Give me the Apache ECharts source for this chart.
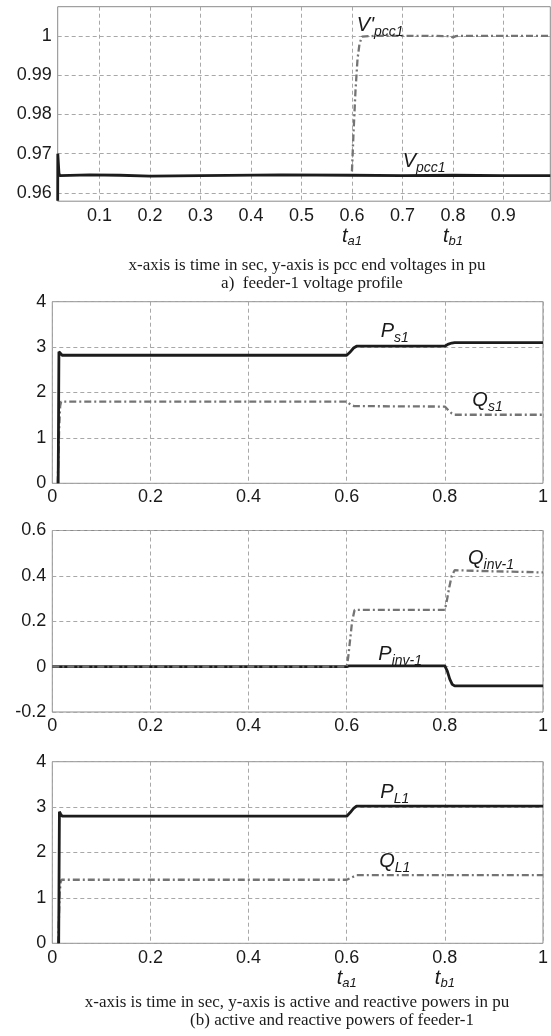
<!DOCTYPE html>
<html>
<head>
<meta charset="utf-8">
<script src="https://cdn.jsdelivr.net/npm/echarts@6/dist/echarts.min.js"></script>
<style>
html,body{margin:0;padding:0;background:#fff;}
#c{width:551px;height:1036px;}
</style>
</head>
<body>
<div id="c"></div>
<script>
// ---------- data ----------
// Panel (a): PCC voltages (pu) vs time (s)
const xTicksA = [0.1, 0.2, 0.3, 0.4, 0.5, 0.6, 0.7, 0.8, 0.9];
const yTicksA = [0.96, 0.97, 0.98, 0.99, 1];
const vpccT  = [0.017, 0.0172, 0.0185, 0.0195, 0.021, 0.08, 0.14, 0.2, 0.3, 0.46, 0.6, 0.7, 0.8, 0.9, 0.993];
const vpccV  = [0.958, 0.970, 0.9695, 0.9650, 0.9644, 0.9646, 0.9645, 0.9643, 0.9644, 0.9646, 0.9645, 0.9644, 0.9645, 0.9644, 0.9644];
const vpcc2T = [0.6, 0.603, 0.607, 0.611, 0.615, 0.62, 0.65, 0.75, 0.795, 0.8, 0.806, 0.812, 0.9, 0.993];
const vpcc2V = [0.9655, 0.975, 0.986, 0.994, 0.998, 0.9998, 1.0, 1.0, 0.9999, 0.9996, 0.9999, 1.0, 1.0, 1.0];

// Panel (b1): source powers
const psT = [0.012, 0.0135, 0.016, 0.02, 0.6, 0.606, 0.614, 0.62, 0.8, 0.806, 0.814, 0.82, 1];
const psV = [0, 2.9, 2.86, 2.82, 2.82, 2.88, 2.98, 3.02, 3.02, 3.06, 3.09, 3.1, 3.1];
const qsT = [0.011, 0.014, 0.016, 0.018, 0.6, 0.608, 0.615, 0.8, 0.808, 0.814, 0.82, 1];
const qsV = [0, 1.2, 1.7, 1.8, 1.8, 1.73, 1.7, 1.69, 1.6, 1.54, 1.51, 1.51];

// Panel (b2): inverter powers
const pinvT = [0, 0.6, 0.605, 0.8, 0.805, 0.81, 0.815, 0.82, 1];
const pinvV = [0, 0, 0.003, 0.003, -0.02, -0.055, -0.078, -0.085, -0.085];
const qinvT = [0, 0.6, 0.603, 0.607, 0.611, 0.616, 0.8, 0.804, 0.809, 0.814, 0.82, 0.9, 0.95, 1];
const qinvV = [0, 0, 0.04, 0.12, 0.2, 0.25, 0.25, 0.29, 0.35, 0.4, 0.425, 0.42, 0.418, 0.415];

// Panel (b3): load powers
const plT = [0.013, 0.0145, 0.017, 0.02, 0.6, 0.607, 0.614, 0.62, 1];
const plV = [0, 2.9, 2.85, 2.8, 2.8, 2.88, 2.97, 3.02, 3.02];
const qlT = [0.012, 0.015, 0.017, 0.019, 0.6, 0.61, 0.62, 1];
const qlV = [0, 1.1, 1.35, 1.4, 1.4, 1.45, 1.5, 1.5];

// curve annotations: [x, y, main, subscript] in data units
const labelsA  = [[0.656, 1.0022, "V'", 'pcc1'], [0.743, 0.9676, 'V', 'pcc1']];
const labelsB1 = [[0.698, 3.3, 'P', 's1'], [0.887, 1.79, 'Q', 's1']];
const labelsB2 = [[0.894, 0.47, 'Q', 'inv-1'], [0.709, 0.046, 'P', 'inv-1']];
const labelsB3 = [[0.698, 3.28, 'P', 'L1'], [0.698, 1.77, 'Q', 'L1']];

const captionA = ['x-axis is time in sec, y-axis is pcc end voltages in pu', 'a)  feeder-1 voltage profile'];
const captionB = ['x-axis is time in sec, y-axis is active and reactive powers in pu', '(b) active and reactive powers of feeder-1'];

// ---------- styling ----------
const SANS = '"Liberation Sans", Arial, sans-serif';
const SERIF = '"Liberation Serif", "Times New Roman", serif';
const TXT = '#1a1a1a';
const GRIDC = '#a8a8a8';
const FRAME = '#8a8a8a';
const BLACK = '#1c1c1c';
const GREY = '#747474';

const zip = (a, b) => a.map((v, i) => [v, b[i]]);

const grids = [
  {left: 57.7, top: 6.7, width: 492.6, height: 194.5},
  {left: 52.3, top: 301.7, width: 492, height: 181.6},
  {left: 52.3, top: 530.5, width: 492, height: 181.5},
  {left: 52.3, top: 761.7, width: 492, height: 181.6}
].map(g => Object.assign(g, {show: true, borderColor: FRAME, borderWidth: 1, backgroundColor: 'transparent'}));

const splitLine = {show: true, lineStyle: {color: GRIDC, width: 1, type: [4, 3]}};
const labelBase = {color: TXT, fontFamily: SANS, fontSize: 18};
const tRich = {
  n: {color: TXT, fontFamily: SANS, fontSize: 18, lineHeight: 20},
  t: {color: TXT, fontFamily: SANS, fontSize: 20, fontStyle: 'italic', lineHeight: 22, verticalAlign: 'top'},
  s: {color: TXT, fontFamily: SANS, fontSize: 13, fontStyle: 'italic', lineHeight: 14, padding: [10, 0, 0, 0], verticalAlign: 'bottom'}
};
function tLabel(v) {
  const s = String(Math.round(v * 1000) / 1000);
  if (Math.abs(v - 0.6) < 1e-6) return '{n|' + s + '}\n{t|t}{s|a1}';
  if (Math.abs(v - 0.8) < 1e-6) return '{n|' + s + '}\n{t|t}{s|b1}';
  return '{n|' + s + '}';
}

function xAxis(i, opts) {
  return Object.assign({
    type: 'value', gridIndex: i,
    axisLine: {show: false},
    axisTick: {show: false},
    splitLine: splitLine,
    axisLabel: Object.assign({margin: 5}, labelBase)
  }, opts);
}
function yAxis(i, opts) {
  return Object.assign({
    type: 'value', gridIndex: i,
    axisLine: {show: false},
    axisTick: {show: false},
    splitLine: splitLine,
    axisLabel: Object.assign({margin: 6}, labelBase)
  }, opts);
}

const xAxes = [
  xAxis(0, {min: 0.017, max: 0.993,
    axisTick: {show: false, customValues: xTicksA},
    axisLabel: Object.assign({margin: 5, customValues: xTicksA, formatter: tLabel, rich: tRich}, labelBase)}),
  xAxis(1, {min: 0, max: 1, interval: 0.2}),
  xAxis(2, {min: 0, max: 1, interval: 0.2}),
  xAxis(3, {min: 0, max: 1, interval: 0.2,
    axisLabel: Object.assign({margin: 5, formatter: tLabel, rich: tRich}, labelBase)})
];
const yAxes = [
  yAxis(0, {min: 0.9579, max: 1.0074,
    axisTick: {show: false, customValues: yTicksA},
    axisLabel: Object.assign({margin: 6, customValues: yTicksA, formatter: v => String(Math.round(v * 1000) / 1000)}, labelBase)}),
  yAxis(1, {min: 0, max: 4, interval: 1}),
  yAxis(2, {min: -0.2, max: 0.6, interval: 0.2, axisLabel: Object.assign({margin: 6, formatter: v => String(Math.round(v * 1000) / 1000)}, labelBase)}),
  yAxis(3, {min: 0, max: 4, interval: 1})
];

function solid(i, t, v) {
  return {type: 'line', xAxisIndex: i, yAxisIndex: i, data: zip(t, v), showSymbol: false, symbol: 'none',
    silent: true, animation: false, z: 3, lineStyle: {color: BLACK, width: 2.8}};
}
function dashdot(i, t, v, z) {
  return {type: 'line', xAxisIndex: i, yAxisIndex: i, data: zip(t, v), showSymbol: false, symbol: 'none',
    silent: true, animation: false, z: z || 2, lineStyle: {color: GREY, width: 2.3, type: [7, 3, 2, 3]}};
}
function annot(i, list) {
  return {type: 'scatter', xAxisIndex: i, yAxisIndex: i, symbolSize: 0, silent: true, animation: false, z: 10,
    itemStyle: {color: TXT, opacity: 1},
    data: list.map(l => ({value: [l[0], l[1]], main: l[2], sub: l[3]})),
    label: {show: true, position: [0, 0], align: 'center', verticalAlign: 'middle', color: TXT, opacity: 1, textBorderWidth: 0,
      formatter: p => '{v|' + p.data.main + '}{s|' + p.data.sub + '}',
      rich: {
        v: {color: TXT, fontFamily: SANS, fontSize: 20, fontStyle: 'italic', lineHeight: 24, verticalAlign: 'top', textBorderWidth: 0},
        s: {color: TXT, fontFamily: SANS, fontSize: 14, fontStyle: 'italic', lineHeight: 16, padding: [10, 0, 0, 0], verticalAlign: 'bottom', textBorderWidth: 0}
      }}};
}

const series = [
  dashdot(0, vpcc2T, vpcc2V),
  solid(0, vpccT, vpccV),
  annot(0, labelsA),
  solid(1, psT, psV),
  dashdot(1, qsT, qsV),
  annot(1, labelsB1),
  solid(2, pinvT, pinvV),
  dashdot(2, qinvT, qinvV, 4),
  annot(2, labelsB2),
  solid(3, plT, plV),
  dashdot(3, qlT, qlV),
  annot(3, labelsB3)
];

function cap(text, x, y) {
  return {type: 'text', x: x, y: y, silent: true,
    style: {text: text, fill: TXT, font: '17px ' + SERIF, textAlign: 'center', textVerticalAlign: 'middle'}};
}

const chart = echarts.init(document.getElementById('c'), null, {renderer: 'canvas'});
chart.setOption({
  animation: false,
  backgroundColor: '#ffffff',
  grid: grids,
  xAxis: xAxes,
  yAxis: yAxes,
  series: series,
  graphic: [
    cap(captionA[0], 307, 266),
    cap(captionA[1], 312, 284),
    cap(captionB[0], 297, 1003),
    cap(captionB[1], 332, 1021)
  ]
});
</script>
</body>
</html>
